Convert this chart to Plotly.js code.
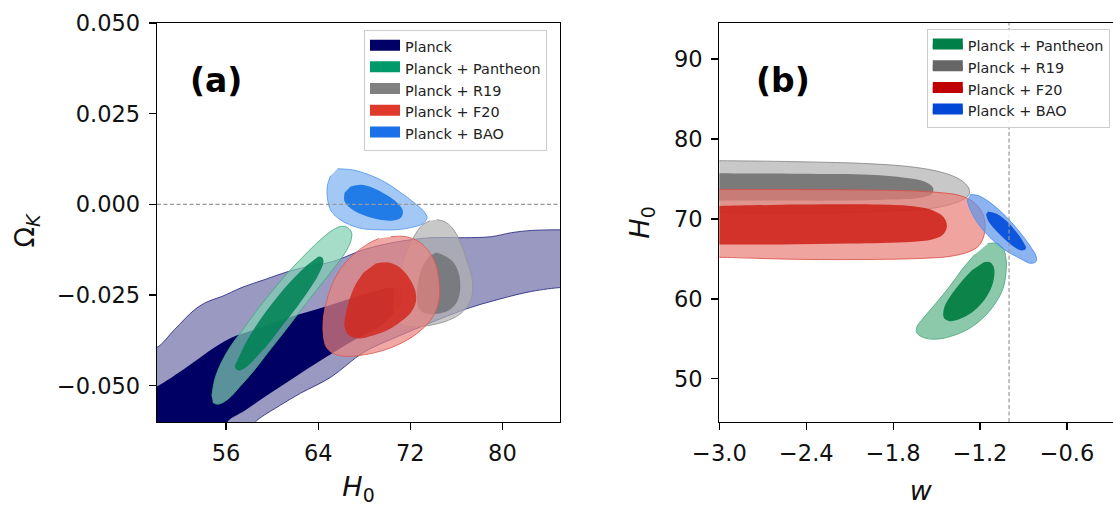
<!DOCTYPE html>
<html>
<head>
<meta charset="utf-8">
<script src="https://cdn.plot.ly/plotly-3.0.1.min.js"></script>
<style>
html,body{margin:0;padding:0;overflow:hidden;background:#fff;}
#chart{width:1140px;height:506px;}
</style>
</head>
<body>
<div id="chart"></div>
<script>
// ---------- Panel (a): Omega_K vs H0 ----------
const planckOuterH0 = [49.3, 50, 51.53, 53.28, 54.41, 55.63, 57.38, 59.39, 61.4, 63.14, 65.24, 67.95, 70.92, 73.8, 76.68, 79.04, 80.79, 82.53, 85.15, 86, 86, 85.15, 82.53, 79.65, 76.68, 73.8, 70.92, 67.95, 65.07, 62.45, 60.7, 58.69, 58.08, 49.3];
const planckOuterOk = [-0.0394, -0.0394, -0.0345, -0.0290, -0.0268, -0.0254, -0.0229, -0.0207, -0.0185, -0.0171, -0.0158, -0.0125, -0.0103, -0.0092, -0.0092, -0.0089, -0.0078, -0.0072, -0.0070, -0.0070, -0.0229, -0.0229, -0.0240, -0.0262, -0.0290, -0.0326, -0.0364, -0.0408, -0.0477, -0.0521, -0.0554, -0.0595, -0.0615, -0.0615];
const planckInnerH0 = [49.3, 50, 52.66, 55.02, 56.5, 58.52, 61.4, 64.37, 66.55, 68.56, 70.6, 71.2, 71.4, 70.8, 69.43, 67.25, 64.8, 62.45, 59.83, 57.64, 56.16, 56.0, 49.3];
const planckInnerOk = [-0.0510, -0.0502, -0.0447, -0.0394, -0.0367, -0.0345, -0.0312, -0.0284, -0.0262, -0.0243, -0.0229, -0.0236, -0.0258, -0.0290, -0.0334, -0.0372, -0.0419, -0.0466, -0.0521, -0.0568, -0.0598, -0.062, -0.062];

const pantheonOuterH0 = [54.76, 55.02, 55.63, 56.5, 57.47, 58.6, 59.83, 61.14, 62.45, 63.84, 65.07, 65.94, 66.55, 66.9, 66.81, 66.29, 65.41, 64.37, 63.23, 62.01, 60.87, 59.65, 58.43, 57.21, 56.16, 55.28, 54.85];
const pantheonOuterOk = [-0.0529, -0.0482, -0.0433, -0.0386, -0.0345, -0.0295, -0.0246, -0.0196, -0.0152, -0.0108, -0.0075, -0.0061, -0.0064, -0.0078, -0.0103, -0.0136, -0.0174, -0.0216, -0.0262, -0.0312, -0.0359, -0.0408, -0.0458, -0.0502, -0.0537, -0.0551, -0.0546];
const pantheonInnerH0 = [64.02, 64.37, 64.45, 64.02, 63.23, 62.18, 61.05, 59.91, 58.78, 57.73, 57.12, 56.77, 57.03, 57.64, 58.52, 59.48, 60.61, 61.83, 62.97];
const pantheonInnerOk = [-0.0144, -0.0147, -0.0160, -0.0194, -0.0235, -0.0282, -0.0328, -0.0375, -0.0416, -0.0449, -0.0458, -0.0449, -0.0427, -0.0386, -0.0339, -0.0295, -0.0249, -0.0205, -0.0169];

const r19OuterH0 = [74.32, 75.11, 75.81, 76.42, 76.94, 77.38, 77.38, 76.94, 76.16, 75.02, 73.62, 72.23, 71.18, 70.66, 70.57, 70.74, 71.18, 71.7, 72.31, 73.01, 73.71];
const r19OuterOk = [-0.0042, -0.0050, -0.0072, -0.0111, -0.0158, -0.0207, -0.0249, -0.0282, -0.0306, -0.0323, -0.0334, -0.0337, -0.0331, -0.0306, -0.0268, -0.0221, -0.0174, -0.0130, -0.0089, -0.0058, -0.0045];
const r19InnerH0 = [74.24, 75.11, 75.81, 76.24, 76.33, 76.07, 75.46, 74.5, 73.36, 72.75, 72.58, 72.75, 73.19, 73.71];
const r19InnerOk = [-0.0133, -0.0144, -0.0163, -0.0194, -0.0235, -0.0268, -0.0290, -0.0301, -0.0301, -0.0287, -0.0249, -0.0202, -0.0163, -0.0141];

const f20OuterH0 = [70.31, 71.62, 72.75, 73.62, 74.24, 74.5, 74.5, 74.06, 73.36, 72.23, 71.0, 69.61, 68.12, 66.64, 65.5, 64.72, 64.45, 64.45, 64.72, 65.24, 66.03, 66.99, 68.21, 69.26];
const f20OuterOk = [-0.0089, -0.0089, -0.0103, -0.0130, -0.0169, -0.0216, -0.0262, -0.0304, -0.0334, -0.0364, -0.0386, -0.0403, -0.0414, -0.0419, -0.0414, -0.0394, -0.0359, -0.0317, -0.0268, -0.0218, -0.0174, -0.0141, -0.0111, -0.0094];
const f20InnerH0 = [69.0, 70.13, 71.09, 71.88, 72.4, 72.49, 72.05, 71.18, 70.13, 68.82, 67.51, 66.64, 66.29, 66.38, 66.72, 67.25, 67.95];
const f20InnerOk = [-0.0163, -0.0160, -0.0174, -0.0202, -0.0235, -0.0268, -0.0298, -0.0323, -0.0345, -0.0361, -0.0370, -0.0361, -0.0337, -0.0304, -0.0262, -0.0221, -0.0188];

const baoOuterH0 = [65.68, 66.99, 68.38, 69.87, 71.18, 72.31, 73.19, 73.45, 73.1, 72.05, 70.74, 69.26, 67.86, 66.72, 65.76, 65.07, 64.8, 64.8, 65.07];
const baoOuterOk = [0.0098, 0.0095, 0.0082, 0.0060, 0.0032, 0.0005, -0.0020, -0.0037, -0.0053, -0.0064, -0.0070, -0.0070, -0.0067, -0.0056, -0.0039, -0.0015, 0.0018, 0.0051, 0.0079];
const baoInnerH0 = [66.81, 67.69, 68.73, 69.87, 70.83, 71.35, 71.18, 70.39, 69.26, 68.03, 66.99, 66.29, 66.29];
const baoInnerOk = [0.0049, 0.0054, 0.0046, 0.0027, 0.0005, -0.0017, -0.0037, -0.0045, -0.0042, -0.0031, -0.0015, 0.0008, 0.0032];

// ---------- Panel (b): H0 vs w ----------
const pantheonOuterW = [-1.145, -1.083, -1.041, -1.021, -1.021, -1.041, -1.090, -1.167, -1.270, -1.374, -1.491, -1.581, -1.636, -1.636, -1.581, -1.498, -1.409, -1.318, -1.236];
const pantheonOuterHb = [66.94, 66.94, 66.32, 65.07, 63.33, 61.33, 59.59, 57.84, 56.35, 55.48, 54.98, 55.11, 55.73, 56.48, 57.84, 59.59, 61.58, 63.83, 65.57];
const pantheonInnerW = [-1.174, -1.131, -1.103, -1.110, -1.153, -1.229, -1.325, -1.408, -1.449, -1.449, -1.401, -1.332, -1.256];
const pantheonInnerHb = [64.58, 64.58, 63.83, 62.09, 60.34, 58.72, 57.60, 57.22, 57.60, 58.84, 60.46, 62.09, 63.58];

const r19OuterW = [-3.134, -2.996, -2.443, -1.960, -1.684, -1.511, -1.394, -1.318, -1.277, -1.277, -1.318, -1.408, -1.546, -1.753, -2.098, -2.443, -2.996, -3.134];
const r19OuterHb = [77.29, 77.29, 77.16, 76.91, 76.54, 76.04, 75.42, 74.67, 73.80, 73.05, 72.43, 71.80, 71.30, 71.05, 70.81, 70.68, 70.81, 70.81];
const r19InnerW = [-3.134, -2.996, -2.443, -1.960, -1.718, -1.581, -1.525, -1.532, -1.615, -1.822, -2.166, -2.581, -2.996, -3.134];
const r19InnerHb = [75.79, 75.73, 75.67, 75.54, 75.17, 74.67, 73.92, 73.17, 72.67, 72.43, 72.30, 72.30, 72.30, 72.30];

const f20OuterW = [-3.134, -2.996, -2.443, -1.753, -1.477, -1.339, -1.249, -1.193, -1.166, -1.173, -1.207, -1.270, -1.408, -1.615, -1.892, -2.443, -2.996, -3.134];
const f20OuterHb = [73.67, 73.67, 73.67, 73.55, 73.30, 72.93, 72.18, 71.05, 69.56, 67.94, 66.69, 65.95, 65.32, 65.07, 64.95, 64.95, 65.20, 65.20];
const f20InnerW = [-3.134, -2.996, -2.443, -1.892, -1.649, -1.525, -1.450, -1.429, -1.456, -1.532, -1.684, -2.098, -2.581, -2.996, -3.134];
const f20InnerHb = [71.55, 71.62, 71.80, 71.80, 71.55, 71.05, 70.18, 69.06, 68.06, 67.44, 67.13, 66.94, 66.82, 66.82, 66.82];

const baoOuterW = [-1.269, -1.214, -1.131, -1.021, -0.924, -0.848, -0.813, -0.813, -0.848, -0.924, -1.034, -1.145, -1.228, -1.276, -1.290];
const baoOuterHb = [73.05, 72.93, 72.05, 70.31, 68.31, 66.44, 65.32, 64.70, 64.45, 65.07, 66.19, 67.94, 69.81, 71.55, 72.43];
const baoInnerW = [-1.145, -1.090, -1.021, -0.952, -0.904, -0.883, -0.911, -0.959, -1.028, -1.097, -1.145, -1.159];
const baoInnerHb = [70.93, 70.68, 69.81, 68.44, 67.19, 66.32, 66.07, 66.44, 67.44, 68.69, 69.81, 70.56];

const namesA = ["Planck", "Planck + Pantheon", "Planck + R19", "Planck + F20", "Planck + BAO"];
const namesB = ["Planck + Pantheon", "Planck + R19", "Planck + F20", "Planck + BAO"];
const legendColorsA = ['#000066', '#00996a', '#808080', '#e0382a', '#1a70e8'];
const legendColorsB = ['#007f48', '#666666', '#c00000', '#0047d8'];
const xTicksA = [56, 64, 72, 80];
const yTicksA = [0.05, 0.025, 0, -0.025, -0.05];
const xTicksB = [-3.0, -2.4, -1.8, -1.2, -0.6];
const yTicksB = [50, 60, 70, 80, 90];

function region(x, y, fill, line, lw, xa, ya) {
  return {
    type: 'scatter', mode: 'lines', x: x, y: y, fill: 'toself',
    fillcolor: fill, line: {color: line, width: lw, shape: 'spline', smoothing: 1},
    showlegend: false, xaxis: xa, yaxis: ya, hoverinfo: 'skip'
  };
}
function legendEntry(name, color, xa, ya, leg) {
  return {
    type: 'scatter', mode: 'lines', x: [null], y: [null], fill: 'toself',
    fillcolor: color, line: {color: color, width: 10},
    name: name, showlegend: true, legend: leg, xaxis: xa, yaxis: ya, hoverinfo: 'skip'
  };
}

const traces = [
  region(planckOuterH0, planckOuterOk, 'rgba(0,0,102,0.40)', 'rgba(40,40,130,0.85)', 1, 'x', 'y'),
  region(planckInnerH0, planckInnerOk, 'rgb(0,0,100)', 'rgb(0,0,100)', 0, 'x', 'y'),
  region(pantheonOuterH0, pantheonOuterOk, 'rgba(128,206,178,0.7)', 'rgba(60,170,125,0.8)', 1, 'x', 'y'),
  region(pantheonInnerH0, pantheonInnerOk, 'rgba(0,130,85,0.88)', 'rgba(0,130,85,0.88)', 0, 'x', 'y'),
  region(r19OuterH0, r19OuterOk, 'rgba(176,176,178,0.7)', 'rgba(150,150,150,0.9)', 1, 'x', 'y'),
  region(r19InnerH0, r19InnerOk, 'rgba(110,110,115,0.8)', 'rgba(110,110,115,0.8)', 0, 'x', 'y'),
  region(f20OuterH0, f20OuterOk, 'rgba(234,131,126,0.7)', 'rgba(220,90,80,0.85)', 1, 'x', 'y'),
  region(f20InnerH0, f20InnerOk, 'rgba(210,40,30,0.85)', 'rgba(210,40,30,0.85)', 0, 'x', 'y'),
  region(baoOuterH0, baoOuterOk, 'rgba(126,176,241,0.7)', 'rgba(90,155,235,0.9)', 1, 'x', 'y'),
  region(baoInnerH0, baoInnerOk, 'rgba(20,115,230,0.9)', 'rgba(20,115,230,0.9)', 0, 'x', 'y'),

  region(pantheonOuterW, pantheonOuterHb, 'rgba(91,176,134,0.7)', 'rgba(70,170,125,0.85)', 1, 'x2', 'y2'),
  region(pantheonInnerW, pantheonInnerHb, 'rgba(0,125,65,0.92)', 'rgba(0,125,65,0.92)', 0, 'x2', 'y2'),
  region(r19OuterW, r19OuterHb, 'rgba(176,176,176,0.7)', 'rgba(140,140,140,0.9)', 1, 'x2', 'y2'),
  region(r19InnerW, r19InnerHb, 'rgba(100,100,100,0.78)', 'rgba(100,100,100,0.78)', 0, 'x2', 'y2'),
  region(f20OuterW, f20OuterHb, 'rgba(234,126,119,0.7)', 'rgba(220,80,70,0.85)', 1, 'x2', 'y2'),
  region(f20InnerW, f20InnerHb, 'rgba(205,30,20,0.85)', 'rgba(205,30,20,0.85)', 0, 'x2', 'y2'),
  region(baoOuterW, baoOuterHb, 'rgba(91,148,234,0.7)', 'rgba(80,145,235,0.9)', 1, 'x2', 'y2'),
  region(baoInnerW, baoInnerHb, 'rgba(0,75,220,0.9)', 'rgba(0,75,220,0.9)', 0, 'x2', 'y2')
];
namesA.forEach((n, i) => traces.push(legendEntry(n, legendColorsA[i], 'x', 'y', 'legend')));
namesB.forEach((n, i) => traces.push(legendEntry(n, legendColorsB[i], 'x2', 'y2', 'legend2')));

const FONT = 'DejaVu Sans, Liberation Sans, sans-serif';
const axisBase = {
  showgrid: false, zeroline: false, showline: true, linecolor: '#000', linewidth: 1.3,
  mirror: true, ticks: 'outside', ticklen: 7, tickwidth: 1.3, tickcolor: '#000',
  tickfont: {family: FONT, size: 22.5, color: '#111'}, automargin: false, ticklabelstandoff: 4
};
const legBase = {
  bgcolor: 'rgba(255,255,255,0.85)', bordercolor: '#cccccc', borderwidth: 1,
  font: {family: FONT, size: 14.4, color: '#222'}, xanchor: 'left', yanchor: 'top',
  tracegroupgap: 0, itemclick: false
};

const layout = {
  width: 1140, height: 506,
  margin: {l: 157, r: 18, t: 23, b: 84},
  paper_bgcolor: '#fff', plot_bgcolor: '#fff',
  showlegend: true,
  font: {family: FONT, color: '#111'},
  xaxis: Object.assign({}, axisBase, {
    domain: [0, 0.4176], range: [50, 85], tickvals: xTicksA, ticktext: xTicksA.map(String),
    title: {text: '<i>H</i><sub>0</sub>', font: {family: FONT, size: 27, color: '#111'}, standoff: 20}
  }),
  yaxis: Object.assign({}, axisBase, {
    domain: [0, 1], range: [-0.06, 0.05], tickvals: yTicksA, tickformat: '.3f',
    title: {text: 'Ω<sub><i>K</i></sub>&nbsp;&nbsp;', font: {family: FONT, size: 27, color: '#111'}, standoff: 14}
  }),
  xaxis2: Object.assign({}, axisBase, {
    domain: [0.5828, 1], range: [-3.0, -0.22], tickvals: xTicksB, tickformat: '.1f', anchor: 'y2',
    title: {text: '<i>w</i>', font: {family: FONT, size: 27, color: '#111'}, standoff: 20}
  }),
  yaxis2: Object.assign({}, axisBase, {
    domain: [0, 1], range: [44.6, 94.52], tickvals: yTicksB, anchor: 'x2',
    title: {text: '<i>H</i><sub>0</sub>', font: {family: FONT, size: 27, color: '#111'}, standoff: 16}
  }),
  legend: Object.assign({}, legBase, {x: 0.2145, y: 0.983}),
  legend2: Object.assign({}, legBase, {x: 0.7977, y: 0.986}),
  shapes: [
    {type: 'line', xref: 'x domain', yref: 'y', x0: 0, x1: 1, y0: 0, y1: 0,
     line: {color: '#999', width: 1.2, dash: '4px,2.5px'}, layer: 'above'},
    {type: 'line', xref: 'x2', yref: 'y2 domain', x0: -1, x1: -1, y0: 0, y1: 1,
     line: {color: '#999', width: 1.2, dash: '4px,2.5px'}, layer: 'above'}
  ],
  annotations: [
    {text: '<b>(a)</b>', xref: 'x domain', yref: 'y domain', x: 0.146, y: 0.857,
     xanchor: 'center', yanchor: 'middle',
     showarrow: false, font: {family: FONT, size: 33, color: '#000'}},
    {text: '<b>(b)</b>', xref: 'x2 domain', yref: 'y2 domain', x: 0.159, y: 0.855,
     xanchor: 'center', yanchor: 'middle',
     showarrow: false, font: {family: FONT, size: 33, color: '#000'}}
  ]
};

Plotly.newPlot('chart', traces, layout, {displayModeBar: false, staticPlot: true});
</script>
</body>
</html>
